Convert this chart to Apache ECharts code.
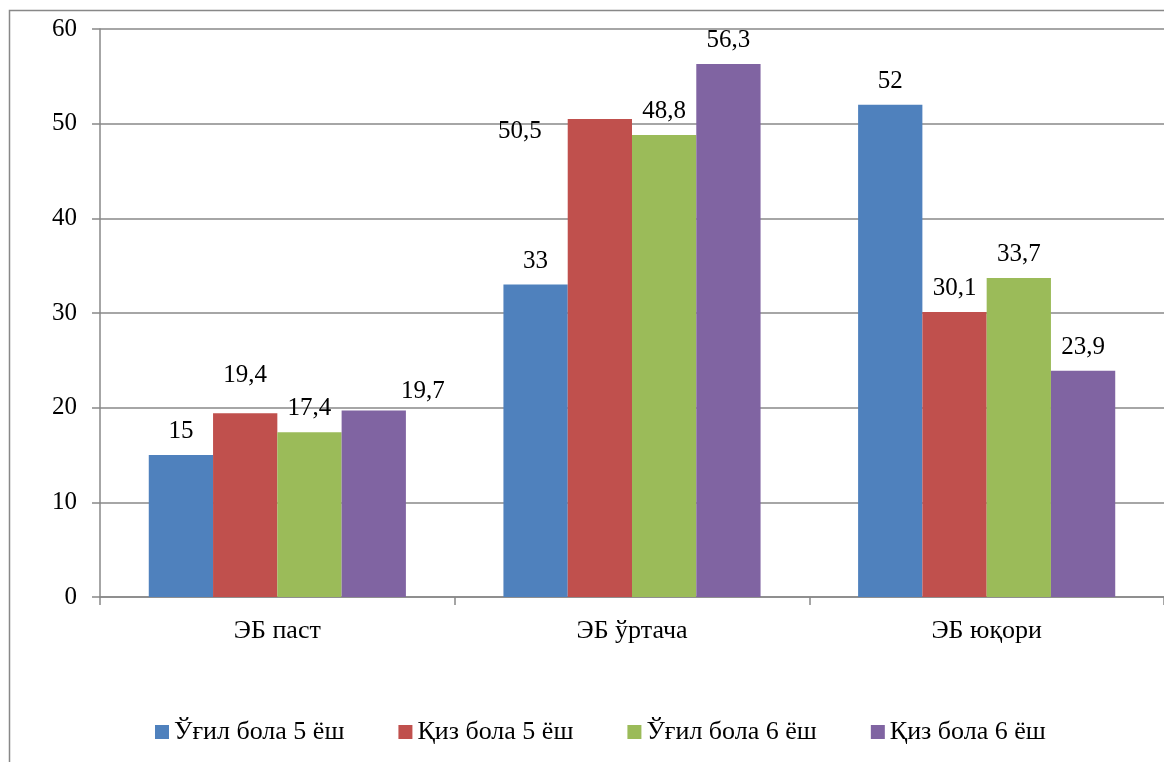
<!DOCTYPE html>
<html><head><meta charset="utf-8">
<script src="https://cdn.jsdelivr.net/npm/echarts@6/dist/echarts.min.js"></script>
<style>html,body{margin:0;padding:0;background:#fff}#c{width:1164px;height:762px}</style>
</head><body><div id="c"></div>
<script>
const categories = ['ЭБ паст', 'ЭБ ўртача', 'ЭБ юқори'];
const seriesNames = ['Ўғил бола 5 ёш', 'Қиз бола 5 ёш', 'Ўғил бола 6 ёш', 'Қиз бола 6 ёш'];
const boys5 = [15, 33, 52];
const girls5 = [19.4, 50.5, 30.1];
const boys6 = [17.4, 48.8, 33.7];
const girls6 = [19.7, 56.3, 23.9];
const colors = ['#4F81BD', '#C0504D', '#9BBB59', '#8064A2'];
// manual label offsets (as moved in the original)
const labelOffsets = [
  [[0,0],[0,0],[0,0]],
  [[0,-14],[-80,36],[0,0]],
  [[0,0],[0,0],[0,0]],
  [[49,4],[0,0],[0,0]]
];
const font = '"Liberation Serif", "Times New Roman", serif';
const all = [boys5, girls5, boys6, girls6];
const chart = echarts.init(document.getElementById('c'));
chart.setOption({
  animation: false,
  textStyle: {fontFamily: font},
  graphic: [{type:'rect', shape:{x:9.5,y:10.5,width:1200,height:800}, style:{fill:'none', stroke:'#888', lineWidth:1.5}, z:-1}],
  grid: {left:100, top:29, right:0, bottom:165},
  legend: {top: 714, left: 150, itemWidth: 14, itemHeight: 14, itemGap: 54, icon: 'rect',
    textStyle: {fontFamily: font, fontSize: 26, color: '#000'}, data: seriesNames},
  xAxis: {type:'category', data: categories,
    axisLine:{lineStyle:{color:'#888', width:1.5}},
    axisTick:{show:true, length:8, lineStyle:{color:'#888', width:1.5}},
    axisLabel:{fontFamily:font, fontSize:26, color:'#000', margin:21}},
  yAxis: {type:'value', min:0, max:60, interval:10,
    axisLine:{show:true, lineStyle:{color:'#888', width:1.5}},
    axisTick:{show:true, length:8, lineStyle:{color:'#888', width:1.5}},
    splitLine:{lineStyle:{color:'#888', width:1.5}},
    axisLabel:{fontFamily:font, fontSize:25, color:'#000', margin:23}},
  series: all.map((arr, i) => ({
    type:'bar', name: seriesNames[i], barGap:'0%', barCategoryGap:'27.5%',
    itemStyle:{color: colors[i]},
    data: arr.map((v, j) => ({value: v, label: {offset: labelOffsets[i][j]}})),
    label:{show:true, position:'top', distance:11, fontFamily:font, fontSize:25, color:'#000',
      formatter: p => String(p.value).replace('.', ',')}
  }))
});
</script></body></html>
